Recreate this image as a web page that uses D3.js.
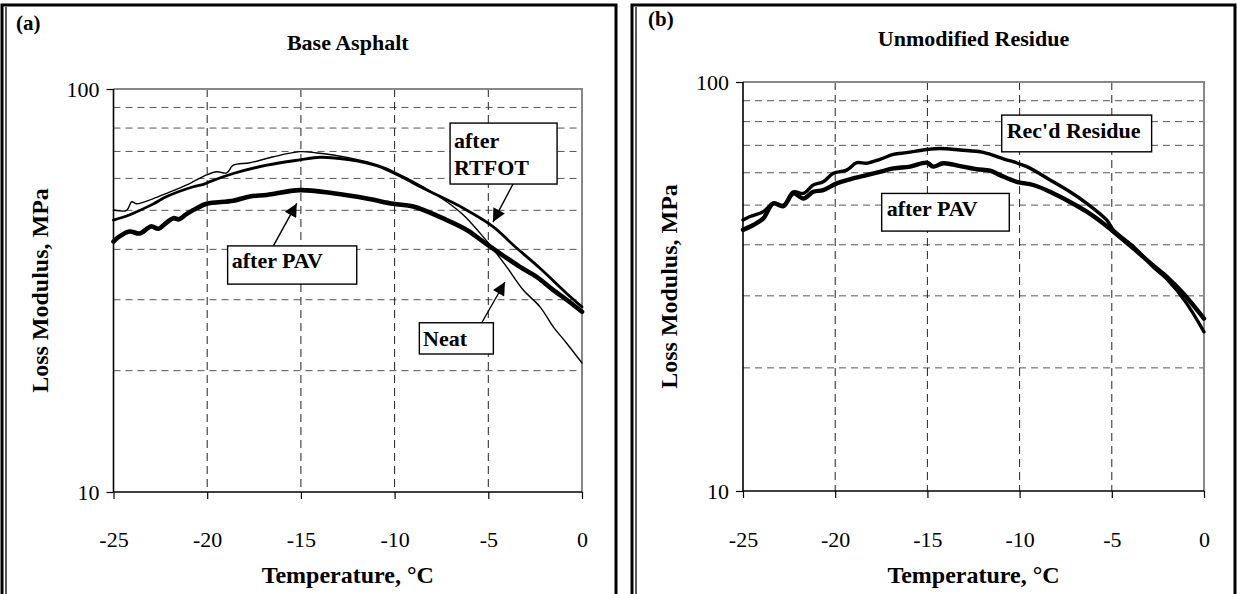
<!DOCTYPE html>
<html><head><meta charset="utf-8">
<script src="https://cdn.jsdelivr.net/npm/d3@7"></script>
<style>
body{margin:0;background:#fff}
svg{display:block}
text{font-family:"Liberation Serif","Times New Roman",serif;fill:#000}
</style>
</head><body>
<svg id="chart" width="1237" height="594"></svg>
<script>
// ---------- data ----------
const tempTicks = [-25, -20, -15, -10, -5, 0];
const modulusTicks = [10, 100];
const modulusGrid = [20, 30, 40, 50, 60, 70, 80, 90];
const tempGrid = [-20, -15, -10, -5];

// Panel (a) Base Asphalt  [temperature °C, loss modulus MPa]
const baseNeat = [[-25,50.1],[-24.3,50.0],[-24.03,52.5],[-23.76,51.9],[-22.9,53.4],[-22.16,55.1],[-21.09,57.8],[-20.03,61.2],[-19.49,62.3],[-18.96,61.9],[-18.61,64.7],[-17.72,65.6],[-16.47,67.9],[-15.05,69.9],[-14.16,69.4],[-13.27,68.6],[-11.49,66.0],[-10.78,64.5],[-10.07,62.5],[-8.47,57.2],[-7.22,52.5],[-6.33,48.7],[-5.44,43.9],[-4.91,41.0],[-4.02,36.2],[-3.13,31.7],[-2.24,28.8],[-1.53,25.7],[-0.82,23.4],[0,20.9]];
const baseRTFOT = [[-25,47.3],[-24.3,48.4],[-23.76,49.6],[-22.9,51.8],[-22.16,54.1],[-20.74,57.2],[-20.2,58.0],[-19.85,58.9],[-18.61,61.7],[-16.82,64.7],[-15.05,66.7],[-13.98,67.7],[-12.38,66.7],[-10.96,64.5],[-9.71,60.8],[-8.47,56.7],[-6.33,50.6],[-4.73,45.5],[-3.67,41.0],[-2.24,35.9],[-0.82,31.1],[0,28.8]];
const basePAV = [[-25,41.8],[-24.7,43.0],[-24.15,44.3],[-23.59,43.8],[-23.0,45.6],[-22.6,45.0],[-22.2,46.5],[-21.81,47.8],[-21.5,47.5],[-21.09,49.0],[-20.56,50.6],[-20.03,51.9],[-18.61,52.8],[-17.72,54.1],[-16.82,54.6],[-15.05,56.1],[-13.27,55.1],[-11.49,53.5],[-10.07,51.9],[-9.0,51.1],[-7.22,47.3],[-6.15,44.7],[-5.27,41.8],[-4.38,39.1],[-3.31,36.2],[-2.42,34.2],[-1.53,31.7],[-0.82,30.0],[0,28.0]];

// Panel (b) Unmodified Residue
const residueRecd = [[-25,46.0],[-24.62,46.9],[-23.9,48.2],[-23.36,50.5],[-22.81,50.0],[-22.27,53.9],[-21.73,53.4],[-21.19,56.0],[-20.65,57.0],[-20.1,59.8],[-19.38,60.9],[-18.83,63.5],[-18.29,63.3],[-17.57,64.7],[-16.85,66.5],[-16.12,67.2],[-15.04,68.4],[-14.32,68.8],[-13.23,68.2],[-11.97,67.3],[-10.88,64.9],[-9.61,62.1],[-8.35,57.6],[-7.27,53.9],[-6.36,50.5],[-5.28,46.0],[-4.92,43.5],[-3.83,39.6],[-2.75,35.3],[-2.02,33.0],[-1.0,29.0],[0,24.5]];
const residuePAV = [[-25,43.5],[-24.44,44.7],[-23.9,46.4],[-23.36,50.5],[-22.81,49.7],[-22.27,53.4],[-21.73,51.9],[-21.19,53.9],[-20.65,54.4],[-19.92,56.5],[-19.2,57.8],[-18.29,59.2],[-17.57,60.3],[-16.85,61.5],[-15.94,62.1],[-15.04,63.5],[-14.68,62.1],[-14.14,63.3],[-13.23,62.3],[-12.33,61.2],[-11.6,60.7],[-11.06,59.2],[-10.16,57.0],[-9.26,56.0],[-8.35,53.9],[-7.27,50.9],[-6.36,48.2],[-5.46,45.1],[-4.92,43.1],[-3.83,39.2],[-2.57,35.0],[-2.02,33.4],[-1.12,30.4],[0,26.4]];

// ---------- layout ----------
const panels = [
  { tag:"(a)", title:"Base Asphalt", frame:{x0:2,x1:616,y0:5},
    plot:{l:113.5,r:582,t:89,b:492},
    tagPos:[16,30], titleY:50, yTitleX:48, xTickY:547, xTitleY:583,
    series:[{d:baseNeat,w:1.4},{d:baseRTFOT,w:2.8},{d:basePAV,w:4.6}],
    notes:[
      {lines:["after","RTFOT"], box:[-7.04,82.3,-1.33,58.1], text:[-6.83,71.4,61.2], arrow:[-3.68,58.1,-4.75,46.8]},
      {lines:["Neat"], box:[-8.68,26.3,-4.73,22.0], text:[-8.48,23.0], arrow:[-5.35,26.3,-4.11,33.2]},
      {lines:["after PAV"], box:[-18.91,40.8,-12.02,32.8], text:[-18.69,35.9], arrow:[-16.47,40.8,-15.22,52.0]}
    ]},
  { tag:"(b)", title:"Unmodified Residue", frame:{x0:632,x1:1235,y0:5},
    plot:{l:743,r:1204,t:82,b:491},
    tagPos:[648,26], titleY:46, yTitleX:677, xTickY:547, xTitleY:583,
    series:[{d:residueRecd,w:3.4},{d:residuePAV,w:4.4}],
    notes:[
      {lines:["Rec'd Residue"], box:[-10.97,83.0,-2.84,67.5], text:[-10.70,72.8]},
      {lines:["after PAV"], box:[-17.48,53.4,-10.56,43.2], text:[-17.21,46.9]}
    ]}
];

const svg = d3.select("#chart");
svg.append("defs").append("marker")
  .attr("id","arr").attr("markerUnits","userSpaceOnUse")
  .attr("viewBox","0 0 10 10").attr("refX",10).attr("refY",5)
  .attr("markerWidth",15).attr("markerHeight",13).attr("orient","auto")
  .append("path").attr("d","M0,0L10,5L0,10z").attr("fill","#000");

panels.forEach(p => {
  const g = svg.append("g");
  const P = p.plot;
  const x = d3.scaleLinear().domain([-25,0]).range([P.l,P.r]);
  const y = d3.scaleLog().domain([10,100]).range([P.b,P.t]);

  // outer frame (thick with double left rule)
  const F = p.frame;
  g.append("path").attr("d",`M${F.x0},600V${F.y0}H${F.x1}V600`)
    .attr("fill","none").attr("stroke","#000").attr("stroke-width",3);
  g.append("line").attr("x1",F.x0+4).attr("x2",F.x0+4).attr("y1",F.y0+2).attr("y2",600)
    .attr("stroke","#000").attr("stroke-width",1.3);

  // grid
  g.selectAll(".hg").data(modulusGrid).join("line")
    .attr("x1",P.l).attr("x2",P.r).attr("y1",d=>y(d)).attr("y2",d=>y(d))
    .attr("stroke","#555").attr("stroke-width",1).attr("stroke-dasharray","7,5");
  g.selectAll(".vg").data(tempGrid).join("line")
    .attr("x1",d=>x(d)).attr("x2",d=>x(d)).attr("y1",P.t).attr("y2",P.b)
    .attr("stroke","#222").attr("stroke-width",1).attr("stroke-dasharray","8,5");

  // plot border top/right grey
  g.append("path").attr("d",`M${P.l},${P.t}H${P.r}V${P.b}`)
    .attr("fill","none").attr("stroke","#888").attr("stroke-width",2);

  // axes
  const xa = g.append("g").attr("transform",`translate(0,${P.b})`)
    .call(d3.axisBottom(x).tickValues(tempTicks).tickSize(7).tickFormat(d=>String(d)));
  const ya = g.append("g").attr("transform",`translate(${P.l},0)`)
    .call(d3.axisLeft(y).tickValues(modulusTicks).tickSize(7).tickFormat(d=>String(d)));
  [xa,ya].forEach(a=>{
    a.select(".domain").attr("stroke","#000").attr("stroke-width",1.6);
    a.selectAll(".tick line").attr("stroke","#000").attr("stroke-width",1.2);
    a.selectAll("text").attr("font-family","Liberation Serif").attr("font-size",22).attr("fill","#000");
  });
  xa.select(".domain").attr("d",`M${P.l},0H${P.r}`);
  ya.select(".domain").attr("d",`M0,${P.b}V${P.t}`);
  xa.selectAll(".tick text").attr("dy",null).attr("y",p.xTickY-P.b);
  ya.selectAll(".tick text").attr("x",-14).attr("dy","0.34em");

  // series
  const line = d3.line().x(d=>x(d[0])).y(d=>y(d[1])).curve(d3.curveCatmullRom.alpha(0.5));
  p.series.forEach(s=>{
    g.append("path").datum(s.d).attr("d",line)
      .attr("fill","none").attr("stroke","#000").attr("stroke-width",s.w)
      .attr("stroke-linejoin","round").attr("stroke-linecap","round");
  });

  // annotations
  p.notes.forEach(n=>{
    const bx0=x(n.box[0]), by0=y(n.box[1]), bx1=x(n.box[2]), by1=y(n.box[3]);
    if(n.arrow){
      g.append("line").attr("x1",x(n.arrow[0])).attr("y1",y(n.arrow[1]))
        .attr("x2",x(n.arrow[2])).attr("y2",y(n.arrow[3]))
        .attr("stroke","#000").attr("stroke-width",1.4).attr("marker-end","url(#arr)");
    }
    g.append("rect").attr("x",bx0).attr("y",by0).attr("width",bx1-bx0).attr("height",by1-by0)
      .attr("fill","#fff").attr("stroke","#000").attr("stroke-width",1.4);
    n.lines.forEach((t,i)=>{
      g.append("text").attr("x",x(n.text[0])).attr("y",y(n.text[1+i]))
        .attr("font-size",22).attr("font-weight","bold").text(t);
    });
  });

  // titles
  g.append("text").attr("x",p.tagPos[0]).attr("y",p.tagPos[1])
    .attr("font-size",21).attr("font-weight","bold").text(p.tag);
  g.append("text").attr("x",(P.l+P.r)/2).attr("y",p.titleY).attr("text-anchor","middle")
    .attr("font-size",22).attr("font-weight","bold").text(p.title);
  g.append("text").attr("transform",`translate(${p.yTitleX},${(P.t+P.b)/2}) rotate(-90)`)
    .attr("text-anchor","middle").attr("font-size",24).attr("font-weight","bold").text("Loss Modulus, MPa");
  g.append("text").attr("x",(P.l+P.r)/2).attr("y",p.xTitleY).attr("text-anchor","middle")
    .attr("font-size",24).attr("font-weight","bold").text("Temperature, °C");
});
</script>
</body></html>
